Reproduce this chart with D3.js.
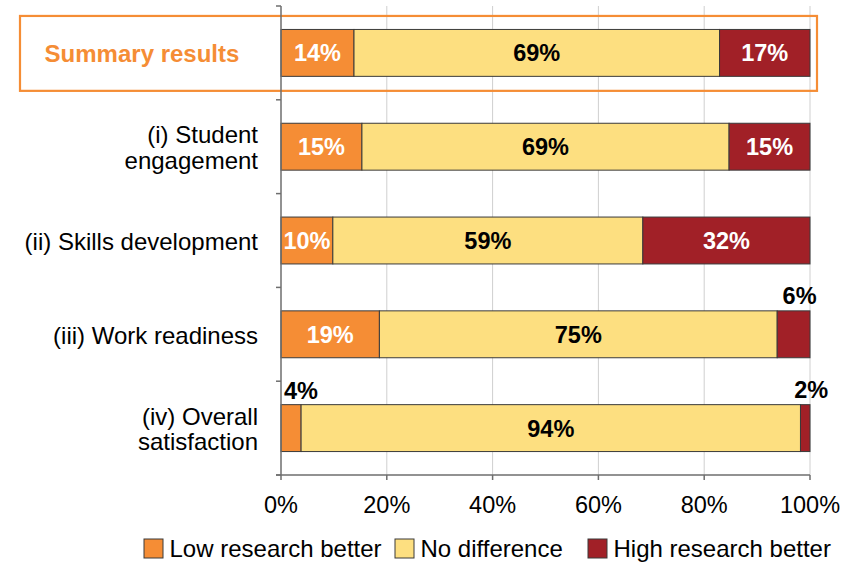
<!DOCTYPE html>
<html>
<head>
<meta charset="utf-8">
<script src="https://cdn.jsdelivr.net/npm/d3@7"></script>
<style>
  body { margin: 0; background: #fff; }
  svg text { font-family: "Liberation Sans", Arial, Helvetica, sans-serif; }
</style>
</head>
<body>
<svg id="chart" width="856" height="563"></svg>
<script>
// data (percent of respondents)
var categories = ["Summary results", "(i) Student|engagement", "(ii) Skills development",
                  "(iii) Work readiness", "(iv) Overall|satisfaction"];
var seriesNames = ["Low research better", "No difference", "High research better"];
var lowBetter  = [13.8, 15.3, 9.8, 18.6, 3.8];
var noDiff     = [69.1, 69.4, 58.6, 75.2, 94.4];
var highBetter = [17.1, 15.3, 31.6, 6.2, 1.8];
var tickValues = [0, 20, 40, 60, 80, 100];

var colors = ["#f58d35", "#fddf80", "#a12027"];
var labelColors = ["#fff", "#000", "#fff"];

var svg = d3.select('#chart');

var x = d3.scaleLinear().domain([0, 100]).range([281, 810]);
var y = d3.scaleBand().domain(categories).range([6, 475])
  .paddingInner(0.5).paddingOuter(0.25);

var rows = categories.map(function(c, i){
  return { cat: c, low: lowBetter[i], mid: noDiff[i], high: highBetter[i] };
});
var stack = d3.stack().keys(["low", "mid", "high"])(rows);

// gridlines
svg.append('g').selectAll('line')
  .data(tickValues.slice(1))
  .enter().append('line')
  .attr('x1', function(d){ return x(d); })
  .attr('x2', function(d){ return x(d); })
  .attr('y1', 6).attr('y2', 475)
  .style('stroke', '#cfcfcf').style('stroke-width', 1);

// summary highlight box
var y0 = y(categories[0]);
svg.append('rect')
  .attr('x', 20).attr('y', y0 - 13.5)
  .attr('width', x(100) + 7 - 20)
  .attr('height', y.bandwidth() + 28)
  .style('fill', 'none')
  .style('stroke', '#f58d35')
  .style('stroke-width', 2.2);

// bars
var layers = svg.append('g').selectAll('g')
  .data(stack)
  .enter().append('g')
  .style('fill', function(d, i){ return colors[i]; });

layers.selectAll('rect')
  .data(function(d){ return d; })
  .enter().append('rect')
  .attr('x', function(d){ return x(d[0]); })
  .attr('y', function(d){ return y(d.data.cat); })
  .attr('width', function(d){ return x(d[1]) - x(d[0]); })
  .attr('height', y.bandwidth())
  .style('stroke', '#3a3a3a')
  .style('stroke-width', 1);

// value labels
var fmt = function(v){ return v.toFixed(0) + '%'; };
stack.forEach(function(layer, si){
  layer.forEach(function(d){
    var v = d[1] - d[0];
    var cy = y(d.data.cat) + y.bandwidth() / 2;
    var t = svg.append('text')
      .text(fmt(v))
      .style('font-size', '23.5px')
      .style('font-weight', 'bold');
    if (v >= 8) {
      t.attr('x', (x(d[0]) + x(d[1])) / 2)
       .attr('y', cy + 8.5)
       .attr('text-anchor', 'middle')
       .style('fill', labelColors[si]);
    } else if (si === 0) {
      t.attr('x', x(d[0]) + 3)
       .attr('y', y(d.data.cat) - 6)
       .attr('text-anchor', 'start')
       .style('fill', '#000');
    } else {
      t.attr('x', (x(d[0]) + x(d[1])) / 2 + 6)
       .attr('y', y(d.data.cat) - 7)
       .attr('text-anchor', 'middle')
       .style('fill', '#000');
    }
  });
});

// axes lines
svg.append('line')
  .attr('x1', x(0)).attr('x2', x(0)).attr('y1', 6).attr('y2', 475)
  .style('stroke', '#6e6e6e').style('stroke-width', 1.5);
svg.append('line')
  .attr('x1', x(0) - 5).attr('x2', x(100)).attr('y1', 475).attr('y2', 475)
  .style('stroke', '#6e6e6e').style('stroke-width', 1.5);

// category boundary ticks
var bounds = d3.range(categories.length + 1).map(function(i){ return y.range()[0] + i * y.step(); });
svg.append('g').selectAll('line')
  .data(bounds)
  .enter().append('line')
  .attr('x1', x(0) - 5).attr('x2', x(0))
  .attr('y1', function(d){ return d; }).attr('y2', function(d){ return d; })
  .style('stroke', '#6e6e6e').style('stroke-width', 1.5);

// x ticks + labels
svg.append('g').selectAll('line')
  .data(tickValues)
  .enter().append('line')
  .attr('x1', function(d){ return x(d); }).attr('x2', function(d){ return x(d); })
  .attr('y1', 475).attr('y2', 480)
  .style('stroke', '#6e6e6e').style('stroke-width', 1.5);

svg.append('g').selectAll('text')
  .data(tickValues)
  .enter().append('text')
  .attr('x', function(d){ return x(d); })
  .attr('y', 513)
  .attr('text-anchor', 'middle')
  .style('font-size', '23.5px')
  .style('fill', '#000')
  .text(function(d){ return d + '%'; });

// category labels
categories.forEach(function(c, i){
  var cy = y(c) + y.bandwidth() / 2;
  var lines = c.split('|');
  var t = svg.append('text')
    .attr('text-anchor', i === 0 ? 'middle' : 'end')
    .style('font-size', '24px')
    .style('fill', i === 0 ? '#f58d35' : '#000')
    .style('font-weight', i === 0 ? 'bold' : 'normal');
  var lx = i === 0 ? 142 : 258;
  var startY = cy + 9.5 - (lines.length - 1) * 12.75;
  lines.forEach(function(l, j){
    t.append('tspan').attr('x', lx).attr('y', startY + j * 25.5).text(l);
  });
});

// legend
var legendX = [144, 395, 588];
var legend = svg.append('g').selectAll('g')
  .data(seriesNames)
  .enter().append('g')
  .attr('transform', function(d, i){ return 'translate(' + legendX[i] + ',539)'; });
legend.append('rect')
  .attr('width', 19).attr('height', 19)
  .style('fill', function(d, i){ return colors[i]; })
  .style('stroke', '#3a3a3a').style('stroke-width', 1);
legend.append('text')
  .attr('x', 25.5)
  .attr('y', 18)
  .style('font-size', '24px')
  .style('fill', '#000')
  .text(function(d){ return d; });
</script>
</body>
</html>
